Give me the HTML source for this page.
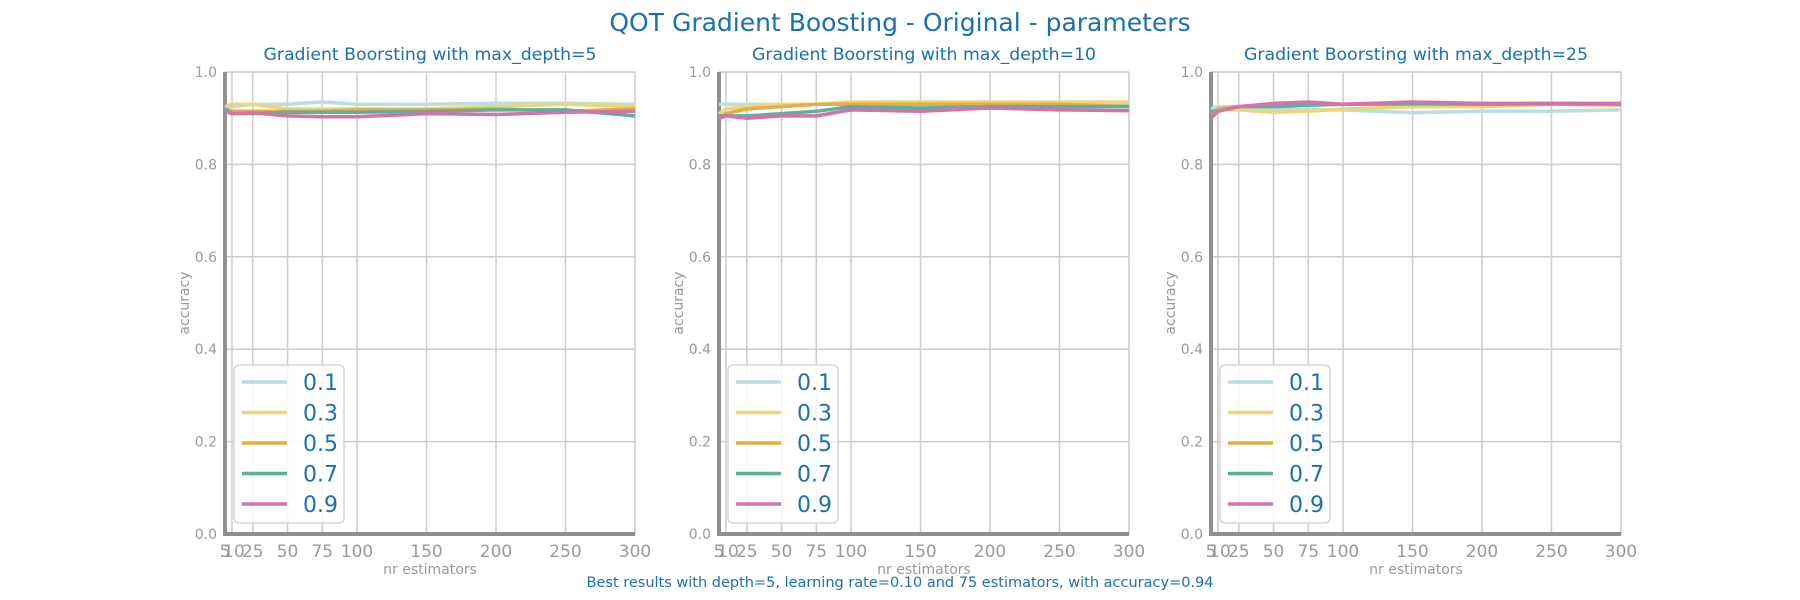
<!DOCTYPE html>
<html><head><meta charset="utf-8"><style>
body{margin:0;background:#fff;}
svg{display:block;font-family:"DejaVu Sans","Liberation Sans",sans-serif;}
</style></head><body>
<svg id="c" width="1800" height="600" viewBox="0 0 1800 600">
<text x="900" y="31" text-anchor="middle" font-size="25" fill="#1a6fb5">QOT Gradient Boosting - Original - parameters</text>
<text x="900" y="587" text-anchor="middle" font-size="14.5" fill="#1a6fb5">Best results with depth=5, learning rate=0.10 and 75 estimators, with accuracy=0.94</text>
</svg>
<script>
const estimators=[5,10,25,50,75,100,150,200,250,300];
const xTicks=[5,10,25,50,75,100,150,200,250,300];
const xTickLabels=["5","10","25","50","75","100","150","200","250","300"];
const yTicks=[0,0.2,0.4,0.6,0.8,1.0];
const yTickLabels=["0.0","0.2","0.4","0.6","0.8","1.0"];
const rates=["0.1","0.3","0.5","0.7","0.9"];
const depths=[5,10,25];
const d5_r1=[0.92,0.925,0.93,0.93,0.935,0.93,0.93,0.932,0.932,0.93];
const d5_r3=[0.925,0.93,0.93,0.92,0.92,0.92,0.92,0.925,0.93,0.925];
const d5_r5=[0.92,0.915,0.915,0.915,0.915,0.918,0.918,0.92,0.915,0.92];
const d5_r7=[0.92,0.91,0.91,0.913,0.913,0.913,0.915,0.918,0.918,0.905];
const d5_r9=[0.915,0.91,0.912,0.905,0.903,0.903,0.91,0.908,0.913,0.915];
const d10_r1=[0.93,0.93,0.93,0.93,0.93,0.932,0.932,0.932,0.93,0.93];
const d10_r3=[0.91,0.92,0.925,0.93,0.93,0.935,0.935,0.935,0.935,0.935];
const d10_r5=[0.9,0.91,0.92,0.925,0.93,0.93,0.93,0.93,0.93,0.925];
const d10_r7=[0.905,0.905,0.905,0.91,0.915,0.925,0.922,0.925,0.925,0.925];
const d10_r9=[0.9,0.905,0.9,0.905,0.905,0.918,0.915,0.922,0.918,0.916];
const d25_r1=[0.92,0.925,0.925,0.92,0.918,0.918,0.912,0.915,0.915,0.918];
const d25_r3=[0.915,0.92,0.918,0.913,0.915,0.92,0.925,0.925,0.93,0.928];
const d25_r5=[0.91,0.92,0.925,0.93,0.93,0.93,0.93,0.93,0.93,0.93];
const d25_r7=[0.915,0.915,0.925,0.925,0.928,0.93,0.932,0.93,0.932,0.93];
const d25_r9=[0.9,0.915,0.925,0.932,0.935,0.93,0.935,0.932,0.932,0.932];
const panelSeries=[[d5_r1,d5_r3,d5_r5,d5_r7,d5_r9],[d10_r1,d10_r3,d10_r5,d10_r7,d10_r9],[d25_r1,d25_r3,d25_r5,d25_r7,d25_r9]];
const colors=["#b9dde0","#ecd677","#e9aa48","#5fb09a","#d572ac"];
const lefts=[225,719,1211];
const W=410,top0=72,bot=534;
const NS="http://www.w3.org/2000/svg";
const svg=document.getElementById('c');
function mk(t,a,p){const e=document.createElementNS(NS,t);for(const k in a)e.setAttribute(k,a[k]);(p||svg).appendChild(e);return e;}
depths.forEach((dep,pi)=>{
  const L=lefts[pi],R=L+W;
  const xs=v=>L+(v-5)/(300-5)*W;
  const ys=v=>bot-v*(bot-top0);
  const g=mk('g',{});
  
  
  mk('rect',{x:L,y:top0,width:W,height:bot-top0,fill:'none',stroke:'#dddddd','stroke-width':1},g);
  xTicks.forEach((t,i)=>{
    if(i>0){const ln=mk('line',{x1:xs(t),x2:xs(t),y1:top0,y2:bot,stroke:'#cccccc','stroke-width':1.5},g);
    }
    const tx=mk('text',{x:xs(t)+(i==1?2:0),y:557,'text-anchor':'middle','font-size':17,fill:'#999'},g);
    tx.textContent=xTickLabels[i];
    
  });
  yTicks.forEach((t,i)=>{
    const ln=mk('line',{x1:L,x2:R,y1:ys(t),y2:ys(t),stroke:'#cccccc','stroke-width':1.5},g);
    
    const tx=mk('text',{x:L-8,y:ys(t)+5,'text-anchor':'end','font-size':14,fill:'#999'},g);
    tx.textContent=yTickLabels[i];
    
  });
  const ax=mk('path',{d:`M${L} ${top0}V${bot}H${R}`,fill:'none',stroke:'#909090','stroke-width':4},g);
  
  panelSeries[pi].forEach((s,si)=>{
    const d=s.map((v,i)=>(i?'L':'M')+xs(estimators[i]).toFixed(1)+' '+ys(v).toFixed(1)).join('');
    const p=mk('path',{d:d,fill:'none',stroke:colors[si],'stroke-width':3.5,'stroke-linejoin':'round'},g);
    
  });
  const st=mk('text',{x:L+W/2,y:60,'text-anchor':'middle','font-size':17.3,fill:'#1a6fb5'},g);
  st.textContent='Gradient Boorsting with max_depth='+dep;
  
  const xl=mk('text',{x:L+W/2,y:574,'text-anchor':'middle','font-size':14,fill:'#999'},g);
  xl.textContent='nr estimators';
  
  const yl=mk('text',{x:0,y:0,'text-anchor':'middle','font-size':14,fill:'#999',transform:`translate(${L-36},303) rotate(-90)`},g);
  yl.textContent='accuracy';
  
  const lg=mk('g',{},g);
  
  mk('rect',{x:L+9,y:365,width:110,height:158,rx:5,fill:'#fff','fill-opacity':0.85,stroke:'#d5d5d5','stroke-width':1.5},lg);
  rates.forEach((r,ri)=>{
    const y=382+ri*30.5;
    const e=mk('g',{},lg);
    
    mk('line',{x1:L+17,x2:L+62,y1:y,y2:y,stroke:colors[ri],'stroke-width':3.5},e);
    const t=mk('text',{x:L+78,y:y+8,'font-size':22,fill:'#1a6fb5'},e);t.textContent=r;
  });
});
</script>
</body></html>
